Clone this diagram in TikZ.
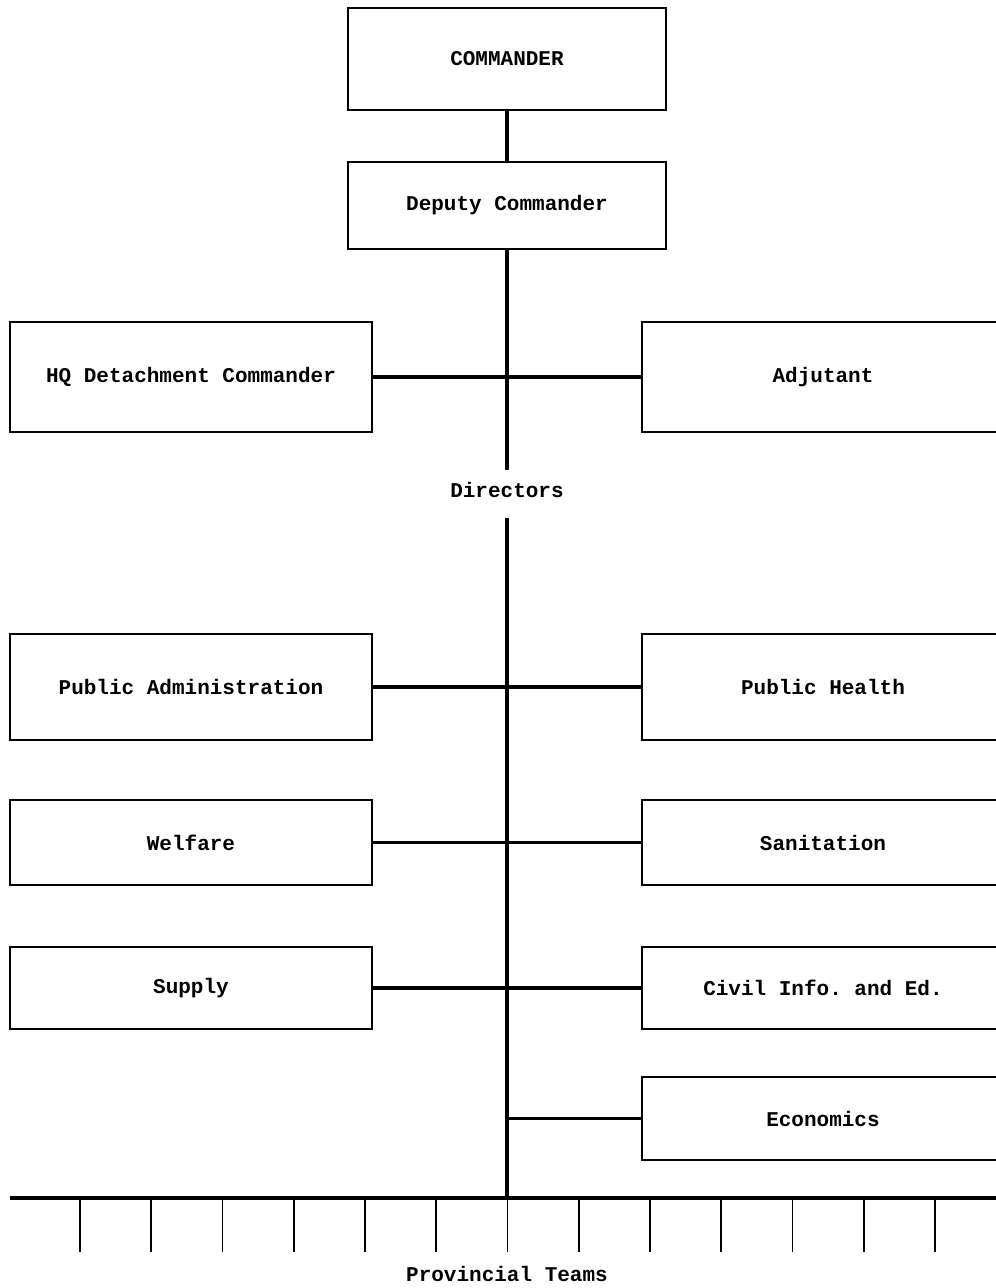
\documentclass[tikz,border=0pt]{standalone}
\usepackage{fontspec}
\setmonofont{Liberation Mono}
\usetikzlibrary{positioning}
\tikzset{
  unit/.style={draw, line width=2.4pt, minimum width=362pt, inner sep=0pt,
    font=\ttfamily\bfseries\fontsize{21}{24}\selectfont},
  label/.style={inner sep=0pt, font=\ttfamily\bfseries\fontsize{21}{24}\selectfont},
  link/.style={line width=3.6pt},
  tick/.style={line width=1.6pt}
}

\begin{document}
\begin{tikzpicture}[x=1pt,y=-1pt]
	\clip (0,0) rectangle (996,1288);
	% command group
	\node[unit, minimum width=318pt, minimum height=102pt] (cmd) at (507,59) {COMMANDER};
	\node[unit, minimum width=318pt, minimum height=87pt] (dep) at (507,205.5) {Deputy Commander};
	\node[unit, minimum height=110pt] (hq) at (191,377) {HQ Detachment Commander};
	\node[unit, minimum height=110pt] (adj) at (823,377) {Adjutant};
	\node[label] (dir) at (507,490) {Directors};
	% directors
	\node[unit, minimum height=106pt] (pubadm) at (191,687) {Public Administration};
	\node[unit, minimum height=106pt] (pubhlth) at (823,687) {Public Health};
	\node[unit, minimum height=85pt] (welf) at (191,842.5) {Welfare};
	\node[unit, minimum height=85pt] (sanit) at (823,842.5) {Sanitation};
	\node[unit, minimum height=82pt] (supp) at (191,988) {Supply};
	\node[unit, minimum height=82pt] (civinf) at (823,988) {Civil Info. and Ed.};
	\node[unit, minimum height=83pt] (econ) at (823,1118.5) {Economics};
	\node[label] (teams) at (507,1274) {Provincial Teams};
	% spine
	\coordinate (dirtop) at (507,470);
	\coordinate (dirbot) at (507,518);
	\coordinate (hub) at (507,1198);
	\coordinate (bl) at (10,1198);
	\coordinate (br) at (1000,1198);
	\draw[link] (cmd.south) -- (dep.north);
	\draw[link] (dep.south) -- (dirtop);
	\draw[link] (dirbot) -- (hub);
	\draw[link] (hq.east) -- (adj.west);
	\draw[link] (pubadm.east) -- (pubhlth.west);
	\draw[link] (welf.east) -- (sanit.west);
	\draw[link] (supp.east) -- (civinf.west);
	\draw[link] (econ.west) -- (econ.west -| hub);
	\draw[link] (bl) -- (br);
	% provincial teams
	\foreach \i in {0,...,12}
	   {\coordinate (t\i) at ({80+71.25*\i},1198);
		\draw[tick] (t\i) -- ++(0,54);}
\end{tikzpicture}
\end{document}
